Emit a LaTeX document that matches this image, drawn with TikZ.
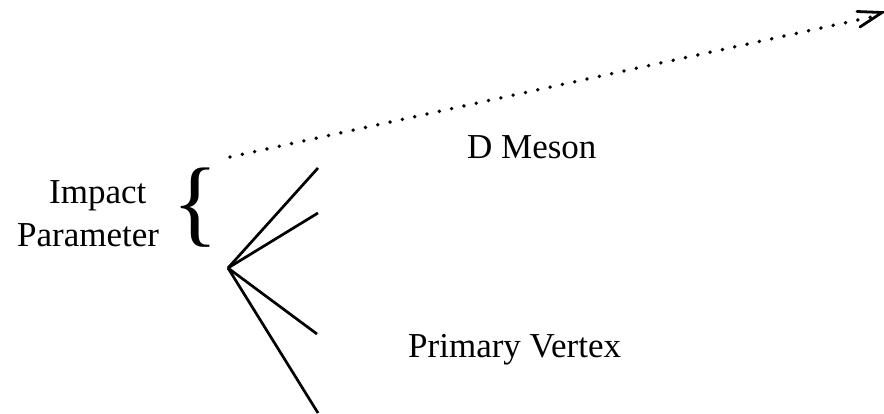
\documentclass[tikz,border=0pt]{standalone}
\usepackage{fontspec}
\setmainfont{Liberation Serif}
\begin{document}
\begin{tikzpicture}[x=1pt,y=-1pt,
  trk/.style={line width=2.7pt},
  barb/.style={line width=2.8pt, line cap=round},
  lbl/.style={font=\fontsize{35}{40}\selectfont, inner sep=0pt, anchor=base west}]
\useasboundingbox (0,0) rectangle (884,413);
\coordinate (pv) at (228,268);
\coordinate (t1) at (318,168);
\coordinate (t2) at (318,213);
\coordinate (t3) at (317,334);
\coordinate (t4) at (318,413);
\coordinate (ds) at (230,157);
\coordinate (de) at (876,16);
\coordinate (tip) at (882,12.5);
\coordinate (b1) at (857,11.5);
\coordinate (b2) at (860,27);
\draw[trk] (pv) -- (t1);
\draw[trk] (pv) -- (t2);
\draw[trk] (pv) -- (t3);
\draw[trk] (pv) -- (t4);
\draw[line width=3.8pt, dash pattern=on 0pt off 12.6pt, line cap=round] (ds) -- (de);
\draw[barb] (b1) -- (tip) -- (b2);
\node[lbl] (ip1) at (49,203) {Impact};
\node[lbl] (ip2) at (17,246) {Parameter};
\node[inner sep=0pt, anchor=base west] (br) at (172,234.5) {\fontsize{96}{96}\selectfont\{};
\node[lbl] (dm) at (467,158) {D Meson};
\node[lbl] (pvl) at (408,357) {Primary Vertex};
\end{tikzpicture}
\end{document}
